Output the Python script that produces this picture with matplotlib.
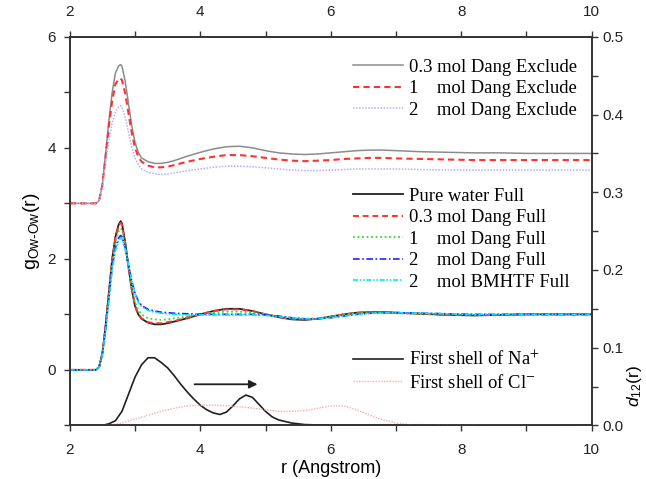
import matplotlib
matplotlib.use('Agg')
from matplotlib import pyplot as plt
from matplotlib.ticker import MultipleLocator

# r grid shared by the g(r) curves
r = [2.0, 2.4, 2.45, 2.5, 2.55, 2.6, 2.65, 2.7, 2.75, 2.78,
     2.8, 2.85, 2.9, 2.95, 3.0, 3.05, 3.1, 3.2, 3.3, 3.4,
     3.5, 3.6, 3.8, 4.0, 4.2, 4.4, 4.6, 4.8, 5.0, 5.2,
     5.4, 5.6, 5.8, 6.0, 6.2, 6.4, 6.6, 6.8, 7.0, 7.4,
     7.8, 8.2, 8.6, 9.0, 9.5, 10.0]

# Exclude curves (plotted shifted up by 3)
ex_03 = [0, 0, 0.05, 0.35, 0.9, 1.5, 2.0, 2.35, 2.48, 2.5,
         2.47, 2.2, 1.8, 1.4, 1.1, 0.92, 0.82, 0.75, 0.72, 0.72,
         0.74, 0.77, 0.85, 0.92, 0.98, 1.02, 1.03, 1.0, 0.95, 0.91,
         0.89, 0.88, 0.89, 0.91, 0.93, 0.95, 0.96, 0.96, 0.95, 0.93,
         0.92, 0.91, 0.91, 0.9, 0.9, 0.9]
ex_1 = [0, 0, 0.05, 0.33, 0.85, 1.4, 1.85, 2.15, 2.24, 2.25,
        2.22, 1.98, 1.62, 1.27, 1.0, 0.84, 0.75, 0.68, 0.65, 0.65,
        0.66, 0.69, 0.75, 0.8, 0.84, 0.87, 0.87, 0.85, 0.82, 0.79,
        0.77, 0.76, 0.77, 0.78, 0.8, 0.81, 0.82, 0.82, 0.81, 0.8,
        0.79, 0.78, 0.78, 0.78, 0.78, 0.78]
ex_2 = [0, 0, 0.05, 0.3, 0.72, 1.15, 1.45, 1.65, 1.74, 1.76,
        1.73, 1.55, 1.28, 1.02, 0.82, 0.7, 0.62, 0.56, 0.53, 0.52,
        0.53, 0.55, 0.59, 0.62, 0.65, 0.67, 0.67, 0.66, 0.64, 0.62,
        0.6, 0.59, 0.59, 0.6, 0.61, 0.62, 0.62, 0.62, 0.62, 0.61,
        0.6, 0.6, 0.6, 0.6, 0.6, 0.6]

# Full curves
pure = [0, 0, 0.05, 0.3, 0.8, 1.4, 2.0, 2.4, 2.62, 2.68,
        2.64, 2.3, 1.85, 1.45, 1.15, 1.0, 0.92, 0.85, 0.82, 0.82,
        0.84, 0.87, 0.93, 1.0, 1.06, 1.1, 1.1, 1.06, 1.0, 0.95,
        0.91, 0.9, 0.92, 0.96, 1.0, 1.03, 1.04, 1.04, 1.03, 1.01,
        0.99, 0.98, 0.99, 1.0, 1.0, 1.0]
full_03 = [0, 0, 0.05, 0.3, 0.8, 1.4, 1.98, 2.38, 2.6, 2.65,
           2.62, 2.28, 1.85, 1.45, 1.16, 1.01, 0.93, 0.86, 0.84, 0.84,
           0.86, 0.88, 0.94, 1.0, 1.06, 1.09, 1.09, 1.06, 1.0, 0.95,
           0.92, 0.91, 0.92, 0.96, 1.0, 1.03, 1.04, 1.04, 1.03, 1.01,
           0.99, 0.99, 0.99, 1.0, 1.0, 1.0]
full_1 = [0, 0, 0.05, 0.3, 0.78, 1.35, 1.92, 2.3, 2.5, 2.55,
          2.52, 2.25, 1.85, 1.5, 1.22, 1.08, 1.0, 0.93, 0.91, 0.9,
          0.91, 0.93, 0.96, 1.0, 1.03, 1.05, 1.05, 1.03, 1.0, 0.96,
          0.93, 0.92, 0.93, 0.96, 1.0, 1.02, 1.03, 1.03, 1.02, 1.01,
          1.0, 0.99, 0.99, 1.0, 1.0, 1.0]
full_2 = [0, 0, 0.05, 0.3, 0.75, 1.3, 1.85, 2.2, 2.38, 2.42,
          2.4, 2.2, 1.9, 1.6, 1.38, 1.24, 1.16, 1.09, 1.06, 1.04,
          1.03, 1.02, 1.01, 1.0, 1.0, 1.0, 1.0, 1.0, 0.99, 0.97,
          0.94, 0.92, 0.92, 0.94, 0.97, 1.0, 1.02, 1.03, 1.03, 1.02,
          1.01, 1.0, 1.0, 1.0, 1.0, 1.0]
bmhtf_2 = [0, 0, 0.05, 0.28, 0.72, 1.25, 1.8, 2.15, 2.33, 2.38,
           2.36, 2.18, 1.9, 1.6, 1.37, 1.22, 1.14, 1.07, 1.04, 1.02,
           1.01, 1.0, 0.99, 0.99, 0.99, 0.99, 0.99, 0.99, 0.98, 0.96,
           0.94, 0.92, 0.92, 0.94, 0.97, 1.0, 1.02, 1.03, 1.03, 1.02,
           1.01, 1.0, 1.0, 1.0, 1.0, 1.0]

# first shell distributions (right axis)
r_na = [2.0, 2.4, 2.5, 2.6, 2.7, 2.8, 2.9, 3.0, 3.1, 3.2,
        3.3, 3.4, 3.5, 3.6, 3.7, 3.8, 3.9, 4.0, 4.1, 4.2,
        4.3, 4.4, 4.5, 4.6, 4.7, 4.8, 4.9, 5.0, 5.1, 5.2,
        5.3, 5.4, 5.6, 6.0, 8.0, 10.0]
d_na = [0, 0, 0, 0.002, 0.006, 0.018, 0.04, 0.062, 0.078, 0.087,
        0.087, 0.081, 0.074, 0.064, 0.053, 0.043, 0.034, 0.026, 0.02, 0.016,
        0.014, 0.017, 0.025, 0.034, 0.039, 0.036, 0.027, 0.018, 0.011, 0.007,
        0.005, 0.003, 0.001, 0, 0, 0]
r_cl = [2.0, 2.6, 2.8, 3.0, 3.2, 3.4, 3.6, 3.8, 4.0, 4.2,
        4.4, 4.6, 4.8, 5.0, 5.2, 5.4, 5.6, 5.8, 6.0, 6.2,
        6.4, 6.6, 6.8, 7.0, 7.2, 10.0]
d_cl = [0, 0, 0.003, 0.008, 0.013, 0.018, 0.022, 0.025, 0.026, 0.026,
        0.025, 0.024, 0.022, 0.02, 0.018, 0.018, 0.019, 0.022, 0.025, 0.025,
        0.02, 0.013, 0.007, 0.003, 0.001, 0]

shift = 3

plt.rcParams['mathtext.fontset'] = 'custom'
plt.rcParams['mathtext.rm'] = 'Liberation Sans'
plt.rcParams['mathtext.it'] = 'Liberation Sans:italic'
plt.rcParams['font.family'] = 'Liberation Sans'

fig = plt.figure(figsize=(6.46, 4.79), dpi=100)
ax = fig.add_axes([0.108, 0.112, 0.808, 0.811])
ax2 = ax.twinx()

gray = '#8c8c8c'
l1, = ax.plot(r, [v + shift for v in ex_03], color=gray, lw=1.1)
l2, = ax.plot(r, [v + shift for v in ex_1], color='#ff3030', lw=1.5, ls=(0, (3, 2)))
l3, = ax.plot(r, [v + shift for v in ex_2], color='#b0b0ff', lw=1.1, ls=(0, (1, 1)))

f1, = ax.plot(r, pure, color='#202020', lw=1.3)
f2, = ax.plot(r, full_03, color='#ff3030', lw=1.4, ls=(0, (3, 2)))
f3, = ax.plot(r, full_1, color='#33dd33', lw=1.3, ls=(0, (1, 1.5)))
f4, = ax.plot(r, full_2, color='#2020ff', lw=1.2, ls=(0, (4, 1.5, 1, 1.5)))
f5, = ax.plot(r, bmhtf_2, color='#00e5ff', lw=1.2, ls=(0, (3, 1, 1, 1, 1, 1)))

n1, = ax2.plot(r_na, d_na, color='#202020', lw=1.2)
n2, = ax2.plot(r_cl, d_cl, color='#ffaaaa', lw=1.0, ls=(0, (1, 1)))

ax.annotate('', xy=(4.92, -0.26), xytext=(3.87, -0.26),
            arrowprops=dict(arrowstyle='-|>', color='#202020', lw=1.3,
                            mutation_scale=12))

ax.set_xlim(2, 10)
ax.set_ylim(-1, 6)
ax2.set_ylim(0, 0.5)

ax.xaxis.set_major_locator(MultipleLocator(2))
ax.xaxis.set_minor_locator(MultipleLocator(1))
ax.yaxis.set_major_locator(MultipleLocator(2))
ax.yaxis.set_minor_locator(MultipleLocator(1))
ax2.yaxis.set_major_locator(MultipleLocator(0.1))
ax2.yaxis.set_minor_locator(MultipleLocator(0.05))
ax2.yaxis.set_major_formatter(plt.FormatStrFormatter('%.1f'))

ax.tick_params(axis='both', which='both', direction='out', length=4, width=1,
               labelsize=11, pad=6, colors='#333333', labelcolor='#222222')
ax.tick_params(axis='x', which='both', top=True, labeltop=True, pad=9)
ax2.tick_params(axis='y', which='both', direction='out', length=4, width=1,
                labelsize=11, pad=4, colors='#333333', labelcolor='#222222')
for a in (ax, ax2):
    for s in a.spines.values():
        s.set_linewidth(1.2)
        s.set_color('#333333')

ax.set_xlabel('r (Angstrom)', fontsize=13, labelpad=2)
ax.set_ylabel('g$_{\\mathregular{Ow\\text{-}Ow}}$(r)', fontsize=14, labelpad=4)
ax2.set_ylabel('$d_{12}$(r)', fontsize=12.5, rotation=90)
ax2.yaxis.set_label_coords(1.064, 0.1)

legfont = dict(family='Liberation Serif', size=13.4, math_fontfamily='stix')
common = dict(frameon=False, loc='upper left', borderpad=0, borderaxespad=0,
              handlelength=2.7, handletextpad=0.3, labelspacing=0.24, prop=legfont)

leg1 = ax2.legend([l1, l2, l3],
                  ['0.3 mol Dang Exclude', '1    mol Dang Exclude', '2    mol Dang Exclude'],
                  bbox_to_anchor=(0.542, 0.944), **common)
ax2.add_artist(leg1)
leg2 = ax2.legend([f1, f2, f3, f4, f5],
                  ['Pure water Full', '0.3 mol Dang Full', '1    mol Dang Full',
                   '2    mol Dang Full', '2    mol BMHTF Full'],
                  bbox_to_anchor=(0.542, 0.612), **common)
ax2.add_artist(leg2)
ax2.legend([n1, n2], ['First shell of Na$^{+}$', 'First shell of Cl$^{-}$'],
           bbox_to_anchor=(0.542, 0.195), **common)

fig.savefig('out.png', dpi=100)
